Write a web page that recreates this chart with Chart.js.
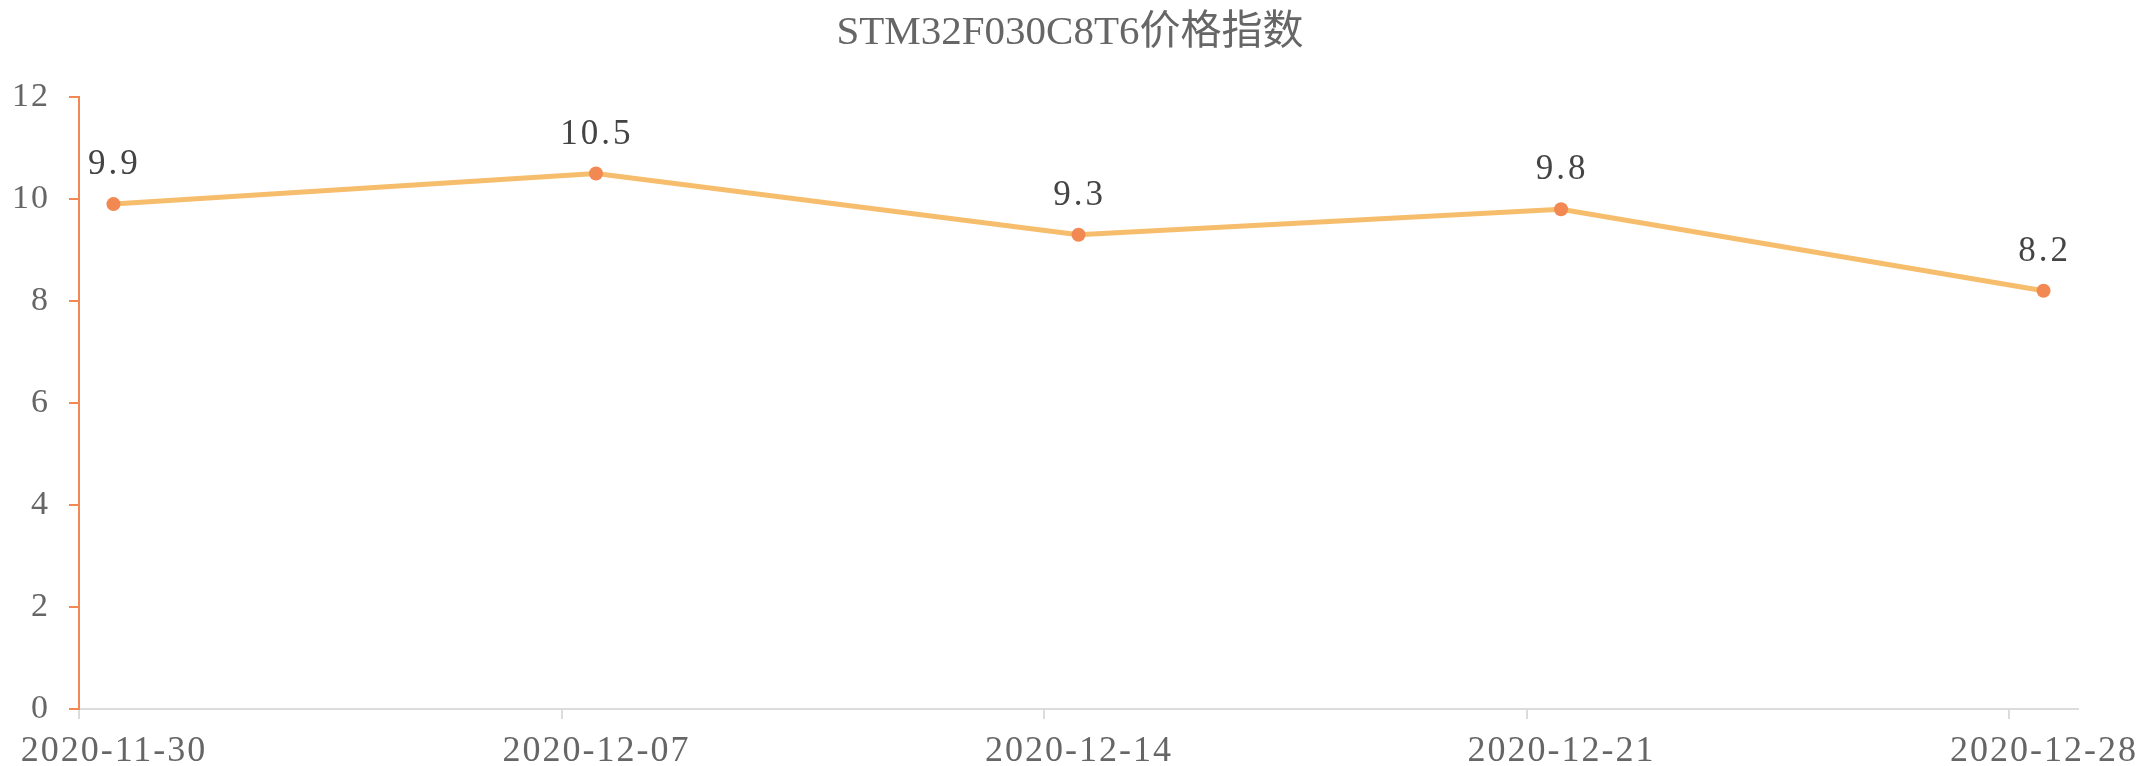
<!DOCTYPE html>
<html>
<head>
<meta charset="utf-8">
<script src="https://cdn.jsdelivr.net/npm/chart.js@4.4.1/dist/chart.umd.min.js"></script>
<style>
  html, body { margin: 0; padding: 0; background: #fff; }
  #wrap { width: 2140px; height: 766px; }
</style>
</head>
<body>
<div id="wrap"><canvas id="chart" width="2140" height="766"></canvas></div>
<script>
// data
var title = "STM32F030C8T6价格指数";
var dates = ["2020-11-30", "2020-12-07", "2020-12-14", "2020-12-21", "2020-12-28"];
var prices = [9.9, 10.5, 9.3, 9.8, 8.2];
var yTicks = [0, 2, 4, 6, 8, 10, 12];

var DAY = 86400000;
var FONT = "'Liberation Serif', 'Noto Sans CJK SC', serif";
var ORANGE = "#f28852";
var LINE = "#f6bd6c";

// days since the first date, points sit at midday
var day0 = Date.parse(dates[0]) / DAY;
function dayOf(d) { return Date.parse(d) / DAY - day0; }
var points = dates.map(function (d, i) {
  return { x: dayOf(d) + 0.5, y: prices[i] };
});

// the reference font is wider (monospaced digits), so space the axis text a bit
var spacing = {
  id: "spacing",
  beforeDraw: function (chart) {
    chart.ctx.letterSpacing = "2px";
  }
};

var textLayer = {
  id: "textLayer",
  afterDraw: function (chart) {
    var ctx = chart.ctx;
    ctx.save();
    ctx.letterSpacing = "0px";
    ctx.font = "41px " + FONT;
    ctx.fillStyle = "#666";
    ctx.textAlign = "center";
    ctx.textBaseline = "alphabetic";
    ctx.fillText(title, chart.width / 2, 44);

    ctx.letterSpacing = "3px";
    ctx.font = "35px " + FONT;
    ctx.fillStyle = "#444";
    chart.getDatasetMeta(0).data.forEach(function (pt, i) {
      ctx.fillText(prices[i].toFixed(1), pt.x + 1, pt.y - 30);
    });
    ctx.restore();
  }
};

var graph = new Chart(document.getElementById("chart").getContext("2d"), {
  type: "line",
  data: {
    datasets: [{
      label: title,
      data: points,
      borderColor: LINE,
      borderWidth: 5,
      pointRadius: 7,
      pointBackgroundColor: ORANGE,
      pointBorderWidth: 0,
      tension: 0,
    }],
  },
  options: {
    responsive: false,
    animation: false,
    devicePixelRatio: 1,
    layout: { padding: { left: 0, right: 62, top: 97, bottom: 0 } },
    plugins: {
      legend: { display: false },
      tooltip: { enabled: false },
      title: { display: false },
    },
    scales: {
      x: {
        type: "linear",
        min: 0,
        max: dayOf(dates[dates.length - 1]) + 1,
        afterBuildTicks: function (scale) {
          scale.ticks = dates.map(function (d) { return { value: dayOf(d) }; });
        },
        afterFit: function (scale) {
          scale.height = 57;
          scale.paddingLeft = 0;
          scale.paddingRight = 0;
        },
        ticks: {
          autoSkip: false,
          maxRotation: 0,
          padding: 11,
          labelOffset: 35,
          color: "#666",
          font: { family: FONT, size: 36 },
          callback: function (v) {
            return new Date((v + day0) * DAY).toISOString().slice(0, 10);
          },
        },
        grid: { drawOnChartArea: false, tickLength: 10, color: "#dcdcdc", lineWidth: 2 },
        border: { color: "#dcdcdc", width: 2 },
      },
      y: {
        min: 0,
        max: 12,
        afterBuildTicks: function (scale) {
          scale.ticks = yTicks.map(function (v) { return { value: v }; });
        },
        afterFit: function (scale) {
          scale.width = 79;
          scale.paddingTop = 0;
          scale.paddingBottom = 0;
        },
        ticks: {
          padding: 19,
          color: "#666",
          font: { family: FONT, size: 34 },
        },
        grid: { drawOnChartArea: false, tickLength: 10, color: ORANGE, lineWidth: 2 },
        border: { color: ORANGE, width: 2 },
      },
    },
  },
  plugins: [spacing, textLayer],
});
</script>
</body>
</html>
